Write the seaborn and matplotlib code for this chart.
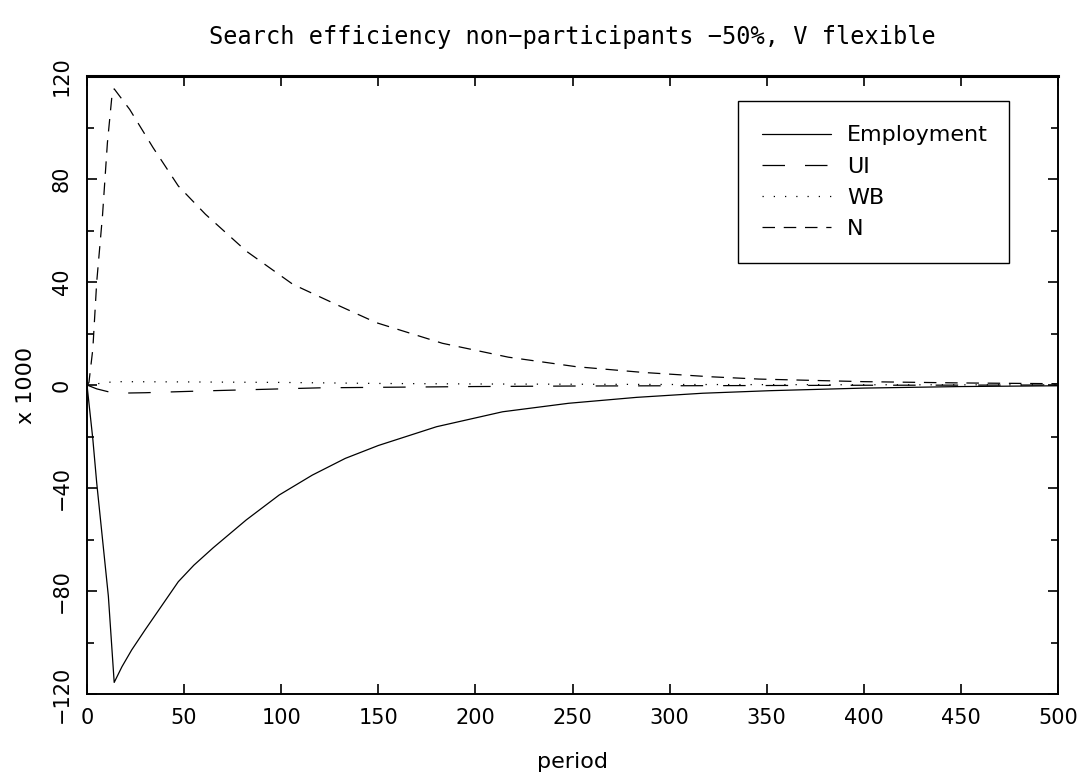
import numpy as np
import pandas as pd
import matplotlib
matplotlib.use("Agg")
import matplotlib.pyplot as plt
import seaborn as sns

# ---- data ----
emp_t = [0, 3, 5, 8, 11, 14, 18, 23, 30, 47, 55, 65, 82, 99, 116, 133, 150, 180, 214, 248, 283, 317, 352, 400, 450, 500]
emp_v = [0, -21, -38, -60, -82, -115.5, -109.4, -102.9, -95, -76.4, -70, -63.2, -52.4, -42.7, -35, -28.5, -23.5,
         -16.2, -10.4, -7.1, -4.8, -3.2, -2.2, -1.2, -0.6, -0.3]

ui_t = [0, 5, 14, 30, 60, 90, 120, 150, 200, 250, 300, 400, 500]
ui_v = [0, -1.5, -3.2, -3.0, -2.3, -1.7, -1.1, -0.9, -0.6, -0.4, -0.3, -0.1, 0.0]

wb_t = [0, 14, 50, 100, 150, 200, 300, 400, 500]
wb_v = [0, 1.3, 1.2, 1.0, 0.6, 0.4, 0.2, 0.1, 0.05]

n_t = [0, 1, 3, 5, 8, 10.5, 13, 14, 22, 34, 47, 61, 82, 106, 130, 149, 183, 217, 252, 286, 321, 346, 400, 450, 500]
n_v = [0, 1, 14, 40, 66, 94, 113.5, 115, 107, 92.2, 77.3, 66.3, 52, 39.1, 30.7, 24.2, 16.2, 10.8, 7.1, 4.9,
       3.2, 2.3, 1.3, 0.8, 0.5]

x_ticks = [0, 50, 100, 150, 200, 250, 300, 350, 400, 450, 500]
y_ticks = [-120, -80, -40, 0, 40, 80, 120]

title = "Search efficiency non\u2212participants \u221250%, V flexible"

sns.set_theme(style="ticks")
plt.rcParams['font.family'] = ['DejaVu Sans']
plt.rcParams['axes.unicode_minus'] = True
plt.rcParams['text.color'] = 'black'
plt.rcParams['axes.labelcolor'] = 'black'
plt.rcParams['xtick.color'] = 'black'
plt.rcParams['ytick.color'] = 'black'

fig = plt.figure(figsize=(10.86, 7.78), dpi=100)
ax = fig.add_axes([87 / 1086, (778 - 694) / 778, 971 / 1086, 618 / 778])

lw = 0.9
sns.lineplot(x=emp_t, y=emp_v, ax=ax, color="black", linewidth=lw, linestyle="-", label="Employment", estimator=None)
sns.lineplot(x=ui_t, y=ui_v, ax=ax, color="black", linewidth=lw, linestyle=(0, (18, 16)), label="UI", estimator=None)
sns.lineplot(x=wb_t, y=wb_v, ax=ax, color="black", linewidth=lw, linestyle=(0, (1.0, 8.0)), label="WB", estimator=None)
sns.lineplot(x=n_t, y=n_v, ax=ax, color="black", linewidth=lw, linestyle=(0, (10, 7)), label="N", estimator=None)

ax.set_xlim(0, 500)
ax.set_ylim(-120, 120)
ax.set_xticks(x_ticks)
ax.set_xticklabels([str(v) for v in x_ticks])
ax.set_yticks(y_ticks)
ax.set_yticklabels([str(v).replace('-', '\u2212') for v in y_ticks])
ax.set_yticks(np.arange(-100, 120, 40), minor=True)

for s in ax.spines.values():
    s.set_linewidth(1.4)
    s.set_color("black")
ax.spines['top'].set_linewidth(2.2)

ax.tick_params(axis='both', which='major', direction='in', length=7, width=1.2, colors='black',
               top=True, right=True, labelsize=15, labelcolor='black')
ax.tick_params(axis='y', which='minor', direction='in', length=5, width=1.2, colors='black',
               left=True, right=True)
ax.tick_params(axis='x', which='major', pad=10)
ax.tick_params(axis='y', which='major', pad=11, labelrotation=90)
for lab in ax.get_yticklabels():
    lab.set_va('center')

ax.set_xlabel("period", fontsize=16, color='black')
ax.set_ylabel("x 1000", fontsize=16, color='black')
ax.xaxis.set_label_coords(0.5, (694 - 762) / 618)
ax.xaxis.label.set_va('center')
ax.yaxis.set_label_coords((26 - 87) / 971, 0.5)
ax.yaxis.label.set_va('center')

fig.text(572.5 / 1086, 1 - 37 / 778, title, ha='center', va='center', fontsize=17,
         family=['DejaVu Sans Mono', 'DejaVu Sans'], color='black')

leg = ax.legend(loc='upper left', bbox_to_anchor=((738 - 87) / 971, 0, (1009 - 738) / 971, (694 - 101) / 618),
                mode='expand', borderaxespad=0, fontsize=16, frameon=True, fancybox=False, shadow=False,
                handlelength=3.1, handletextpad=0.7, labelspacing=0.5, borderpad=1.1)
for t in leg.get_texts():
    t.set_color('black')
fr = leg.get_frame()
fr.set_edgecolor('black')
fr.set_linewidth(1.0)
fr.set_alpha(1)

fig.savefig("out.png", dpi=100)
